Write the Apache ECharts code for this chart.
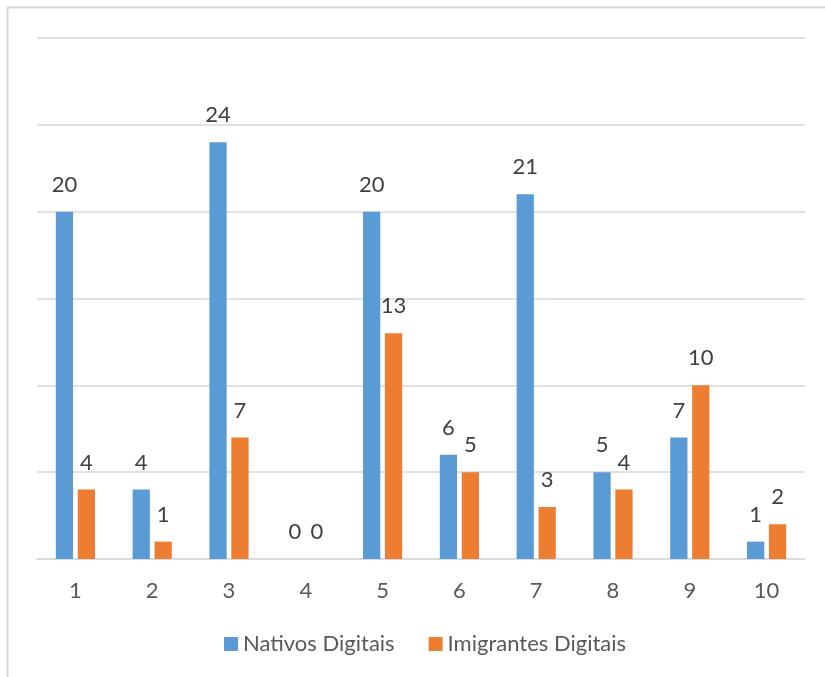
<!DOCTYPE html>
<html>
<head>
<meta charset="utf-8">
<script src="https://cdn.jsdelivr.net/npm/echarts@6/dist/echarts.min.js"></script>
<style>
html,body{margin:0;padding:0;background:#fff;}
#chart{width:825px;height:677px;}
</style>
</head>
<body>
<div id="chart"></div>
<script>
const categories = ['1','2','3','4','5','6','7','8','9','10'];
const nativos = [20,4,24,0,20,6,21,5,7,1];
const imigrantes = [4,1,7,0,13,5,3,4,10,2];
const seriesNames = ['Nativos Digitais','Imigrantes Digitais'];

const FONT = 'Lato';
const chart = echarts.init(document.getElementById('chart'));
const labelCfg = {show:true, position:'top', distance:16, color:'#404040', fontSize:22, fontFamily:FONT};
chart.setOption({
  animation:false,
  graphic:[{type:'rect', shape:{x:7.5,y:7.5,width:840,height:700}, style:{fill:'none', stroke:'#d9d9d9', lineWidth:2}, silent:true}],
  grid:{left:37, right:20, top:38, bottom:118, containLabel:false},
  legend:{
    data:seriesNames, left:224, top:633, padding:0, itemWidth:14, itemHeight:14, itemGap:34,
    icon:'rect',
    textStyle:{color:'#595959', fontSize:22, fontFamily:FONT}
  },
  xAxis:{
    type:'category', data:categories,
    axisLine:{lineStyle:{color:'#d9d9d9', width:1.5}},
    axisTick:{show:false},
    axisLabel:{color:'#595959', fontSize:22, fontFamily:FONT, margin:21}
  },
  yAxis:{
    type:'value', min:0, max:30, interval:5,
    axisLabel:{show:false}, axisLine:{show:false}, axisTick:{show:false},
    splitLine:{lineStyle:{color:'#d9d9d9', width:1.5}}
  },
  series:[
    {name:seriesNames[0], type:'bar', data:nativos, itemStyle:{color:'#5B9BD5'}, barGap:'27%', barCategoryGap:'49%', label:labelCfg},
    {name:seriesNames[1], type:'bar', data:imigrantes, itemStyle:{color:'#ED7D31'}, label:labelCfg}
  ]
});
</script>
</body>
</html>
